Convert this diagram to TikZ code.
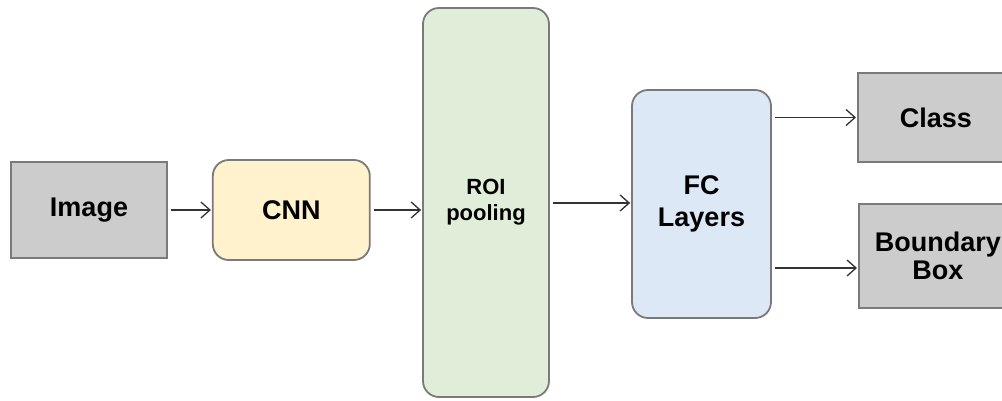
\documentclass[tikz,border=0pt]{standalone}
\usepackage{fontspec}
\setmainfont{Liberation Sans}
\usetikzlibrary{positioning, arrows.meta}
\definecolor{boxgray}{HTML}{CCCCCC}
\definecolor{cnnyellow}{HTML}{FFF2CC}
\definecolor{roigreen}{HTML}{E0EDD9}
\definecolor{fcblue}{HTML}{DDE8F6}
\definecolor{edgegray}{HTML}{7A7A7A}
\definecolor{arrowgray}{HTML}{333333}

\begin{document}
\begin{tikzpicture}[x=1pt, y=1pt,
    every node/.style={font=\fontsize{27}{32}\selectfont\bfseries, align=center},
    stage/.style={draw=edgegray, line width=1.8pt, inner sep=0pt},
    graybox/.style={stage, fill=boxgray},
    roundbox/.style={stage, rounded corners=16pt},
    flow/.style={draw=arrowgray, line width=1.3pt, -{Straight Barb[length=9pt, width=16pt, line width=1.3pt]}, shorten <=3pt, shorten >=1pt}
]
    \useasboundingbox (0,0) rectangle (1002,-400);
    \fill[white] (0,0) rectangle (1002,-400);

    \node[graybox, minimum width=156pt, minimum height=96pt] (image) at (89,-210) {Image};
    \node[roundbox, fill=cnnyellow, minimum width=157pt, minimum height=100pt, right=44pt of image] (cnn) {CNN};
    \node[roundbox, fill=roigreen, minimum width=126pt, minimum height=389pt, right=51.4pt of cnn, yshift=7.5pt,
        font=\fontsize{22}{26}\selectfont\bfseries] (roi) {ROI\\pooling};
    \node[roundbox, fill=fcblue, minimum width=139pt, minimum height=228pt, right=81.2pt of roi, yshift=-1.5pt] (fc) {FC\\Layers};
    \node[graybox, minimum width=156pt, minimum height=89pt, anchor=west] (class) at (857,-117.5) {Class};
    \node[graybox, minimum width=158pt, minimum height=104pt, anchor=west,
        font=\fontsize{27}{28}\selectfont\bfseries] (bbox) at (858,-256) {Boundary\\Box};

    \draw[flow] (image) -- (cnn);
    \draw[flow] (cnn) -- (roi.west |- cnn);
    \draw[flow] (roi.east |- 0,-203) -- (fc.west |- 0,-203);
    \draw[flow] (fc.east |- class) -- (class);
    \draw[flow] (fc.east |- 0,-268) -- (bbox.west |- 0,-268);
\end{tikzpicture}
\end{document}
